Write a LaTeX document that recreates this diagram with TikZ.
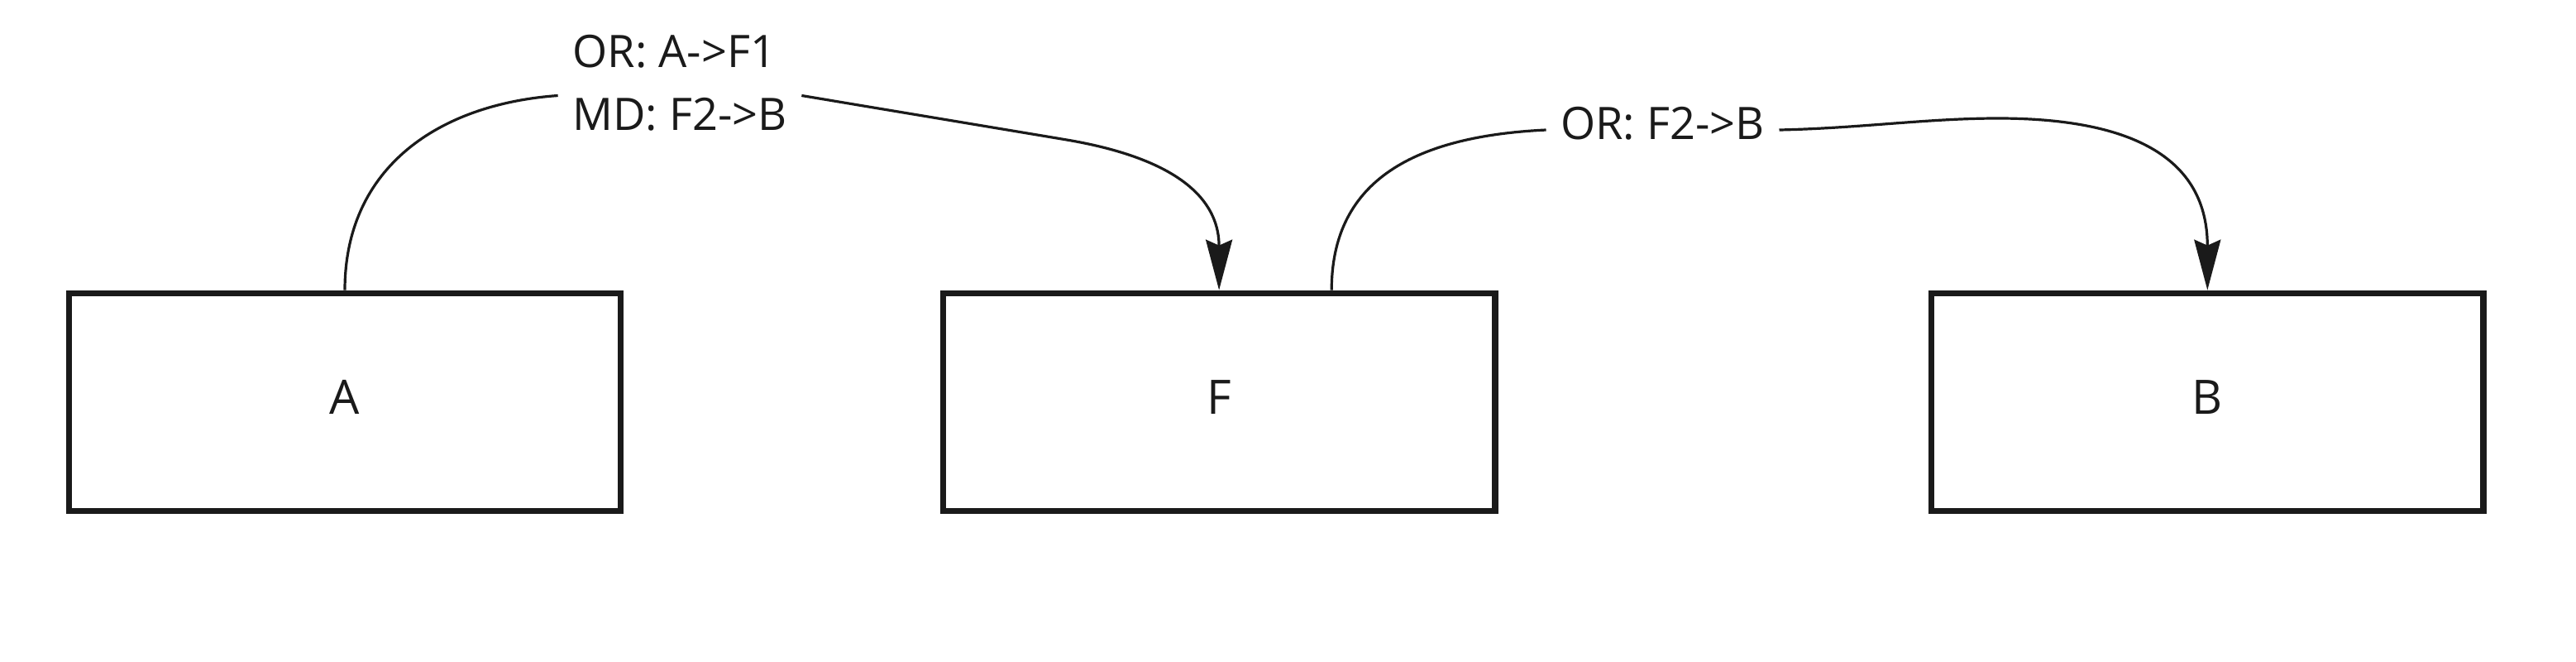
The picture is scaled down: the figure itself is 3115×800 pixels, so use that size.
\documentclass[tikz,border=0pt]{standalone}
\usepackage{fontspec}
\usepackage{xcolor}
\usepackage{tikz}
\setmainfont{Open Sans}
\usetikzlibrary{arrows.meta,positioning}
\definecolor{Ink}{HTML}{1A1A1A}

\begin{document}
\begin{tikzpicture}[x=0.01cm,y=-0.01cm,
    box/.style={draw=Ink,line width=0.075cm,minimum width=6.67cm,minimum height=2.63cm,inner sep=0pt,text depth=0.12cm,text=Ink,font=\fontsize{16.3pt}{20pt}\selectfont},
    lbl/.style={align=left,inner xsep=0.17cm,inner ysep=0pt,text=Ink,font=\fontsize{15.4pt}{21.6pt}\selectfont},
    line/.style={line width=0.032cm,draw=Ink},
    conn/.style={line,-{Stealth[length=0.61cm,width=0.32cm,inset=0.07cm]}}]
    \useasboundingbox (0,0) rectangle (3115,800);
    \node[box] (A) at (417,486) {A};
    \node[box,right=3.82cm of A] (F) {F};
    \node[box,right=5.2cm of F] (B) {B};
    \node[lbl] (lab1) at (822,100.5) {OR: A->F1\\MD: F2->B};
    \node[lbl] (lab2) at (2010.5,149) {OR: F2->B};
    % A -> F
    \draw[line] (A.north) .. controls +(0,-150) and +(-142,10) .. ([yshift=-0.15cm]lab1.west);
    \draw[conn] ([yshift=-0.15cm]lab1.east) -- (1290,169) .. controls +(150,25.5) and +(0,-100) .. (F.north);
    % F -> B
    \draw[line] ([xshift=1.36cm]F.north) .. controls +(0,-127) and +(-168,8) .. ([yshift=-0.08cm]lab2.west);
    \draw[conn] ([yshift=-0.08cm]lab2.east) .. controls +(97,-2) and +(-86,0) .. (2416,143) .. controls +(144,0) and +(0,-170) .. (B.north);
  \end{tikzpicture}
\end{document}
